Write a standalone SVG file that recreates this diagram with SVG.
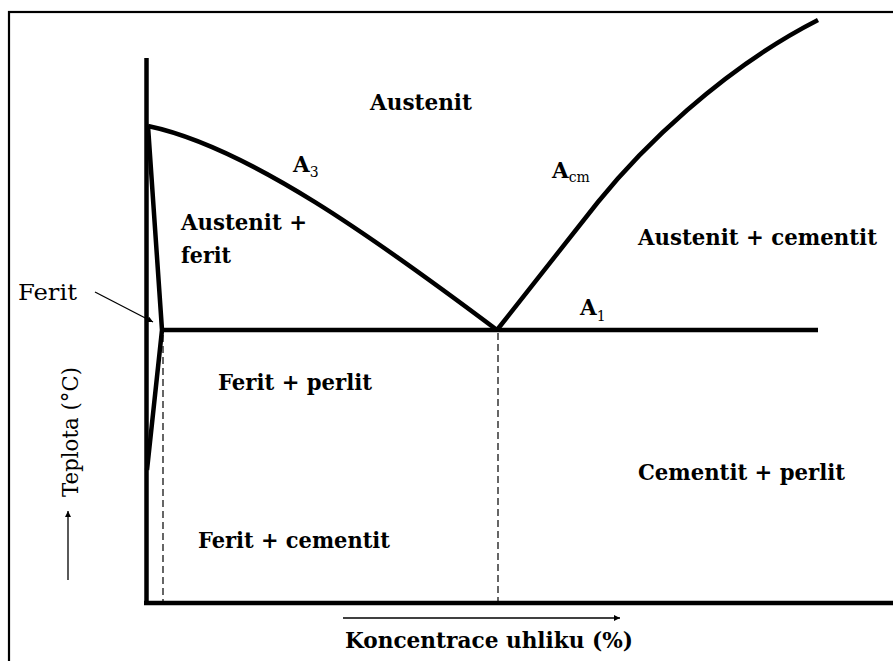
<svg xmlns="http://www.w3.org/2000/svg" width="893" height="661" viewBox="0 0 893 661">
<defs>
<marker id="ah" viewBox="0 0 10 10" refX="10" refY="5" markerWidth="8" markerHeight="6" markerUnits="userSpaceOnUse" orient="auto">
<path d="M0,0 L10,5 L0,10 z" fill="#000"/>
</marker>
<style>
.thick{fill:none;stroke:#000;stroke-width:4.5;stroke-linecap:butt;stroke-linejoin:round}
.dash{fill:none;stroke:#000;stroke-width:1.2;stroke-dasharray:7,4}
.thin{fill:none;stroke:#000;stroke-width:1.3}
.lbl{font-family:"DejaVu Serif","Liberation Serif",serif;font-weight:bold;font-size:21.5px;fill:#000}
.reg{font-family:"DejaVu Serif","Liberation Serif",serif;font-size:22px;fill:#000}
.sub{font-size:14px;font-weight:normal}
</style>
</defs>
<rect width="893" height="661" fill="#fff"/>
<rect x="9" y="12" width="900" height="700" fill="none" stroke="#000" stroke-width="2.2"/>
<g id="axes">
<line class="thick" x1="146.5" y1="58" x2="146.5" y2="605"/>
<line class="thick" x1="144" y1="603" x2="893" y2="603"/>
</g>
<g id="curves">
<path id="A3-line" class="thick" d="M148,126 C248,147 377,240 497,330"/>
<path id="Acm-line" class="thick" d="M497,330 L598,202 C640,150 720,70 818,20"/>
<line id="A1-line" class="thick" x1="160" y1="330" x2="818" y2="330"/>
<path id="ferit-line" class="thick" d="M148,126 L162,330 L147,470"/>
<line class="dash" x1="163" y1="335" x2="163" y2="601"/>
<line class="dash" x1="498" y1="333" x2="498" y2="601"/>
</g>
<g id="connectors">
<line class="thin" x1="95" y1="292" x2="153" y2="322" marker-end="url(#ah)"/>
<line class="thin" x1="68" y1="580" x2="68" y2="511" marker-end="url(#ah)"/>
<line class="thin" x1="343" y1="618" x2="620" y2="618" marker-end="url(#ah)"/>
</g>
<g id="label-austenit"><text class="lbl" x="370" y="110" textLength="102" lengthAdjust="spacingAndGlyphs">Austenit</text></g>
<g id="label-austenit-ferit">
<text class="lbl" x="181" y="230" textLength="126" lengthAdjust="spacingAndGlyphs">Austenit +</text>
<text class="lbl" x="181" y="263" textLength="50" lengthAdjust="spacingAndGlyphs">ferit</text>
</g>
<g id="label-ferit"><text class="reg" x="18" y="300" textLength="59" lengthAdjust="spacingAndGlyphs">Ferit</text></g>
<g id="label-A3"><text class="lbl" x="293" y="172">A<tspan class="sub" dy="5">3</tspan></text></g>
<g id="label-Acm"><text class="lbl" x="552" y="178">A<tspan class="sub" dy="4">cm</tspan></text></g>
<g id="label-A1"><text class="lbl" x="580" y="315">A<tspan class="sub" dy="6">1</tspan></text></g>
<g id="label-austenit-cementit"><text class="lbl" x="638" y="245" textLength="239" lengthAdjust="spacingAndGlyphs">Austenit + cementit</text></g>
<g id="label-ferit-perlit"><text class="lbl" x="218" y="390" textLength="154" lengthAdjust="spacingAndGlyphs">Ferit + perlit</text></g>
<g id="label-cementit-perlit"><text class="lbl" x="638" y="480" textLength="207" lengthAdjust="spacingAndGlyphs">Cementit + perlit</text></g>
<g id="label-ferit-cementit"><text class="lbl" x="198" y="548" textLength="192" lengthAdjust="spacingAndGlyphs">Ferit + cementit</text></g>
<g id="label-x-axis"><text class="lbl" x="345" y="648" textLength="288" lengthAdjust="spacingAndGlyphs">Koncentrace uhliku (%)</text></g>
<g id="label-y-axis"><text class="reg" transform="translate(78,497) rotate(-90)" x="0" y="0" textLength="130" lengthAdjust="spacingAndGlyphs">Teplota (°C)</text></g>
</svg>
